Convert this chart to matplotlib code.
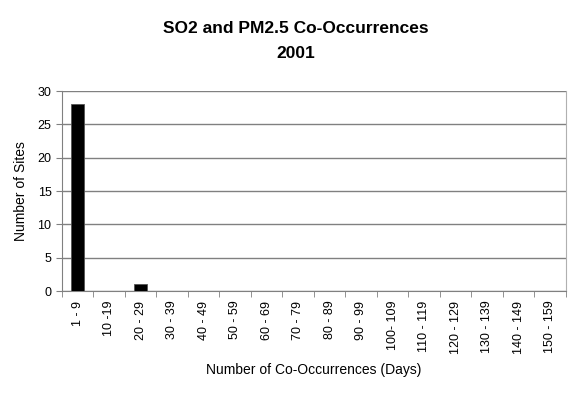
import matplotlib
matplotlib.use('Agg')
import matplotlib.pyplot as plt
import numpy as np

categories = ['1 - 9', '10 -19', '20 - 29', '30 - 39', '40 - 49', '50 - 59', '60 - 69',
              '70 - 79', '80 - 89', '90 - 99', '100- 109', '110 - 119', '120 - 129',
              '130 - 139', '140 - 149', '150 - 159']
sites = [28, 0, 1, 0, 0, 0, 0, 0, 0, 0, 0, 0, 0, 0, 0, 0]

plt.rcParams['font.family'] = ['Liberation Sans', 'DejaVu Sans']

fig = plt.figure(figsize=(5.76, 3.94), dpi=100)
ax = fig.add_axes([0.1076, 0.2614, 0.875, 0.5076])

x = np.arange(len(categories))
ax.bar(x, sites, width=0.42, color='black', edgecolor='#555555', linewidth=0.6, zorder=3)

ax.set_xlim(-0.5, len(categories) - 0.5)
ax.set_ylim(0, 30)
ax.set_yticks(range(0, 31, 5))
ax.yaxis.grid(True, color='#808080', linewidth=1.0, zorder=0)
ax.set_xticks(x)
ax.set_xticklabels(categories, rotation=90, fontsize=9)
ax.tick_params(axis='x', length=0, pad=7)
ax.set_xticks(np.arange(-0.5, len(categories), 1), minor=True)
ax.tick_params(axis='x', which='minor', length=4, color='#808080')
ax.tick_params(axis='y', labelsize=9, length=4, color='#808080')

ax.spines['top'].set_visible(False)
ax.spines['right'].set_color('#b0b0b0')
ax.spines['left'].set_color('#808080')
ax.spines['bottom'].set_color('#808080')

ax.set_ylabel('Number of Sites', fontsize=10, labelpad=7)
ax.set_xlabel('Number of Co-Occurrences (Days)', fontsize=10, labelpad=7)

# two-line title, Excel style spacing
fig.text(0.514, 0.916, 'SO2 and PM2.5 Co-Occurrences', ha='center', va='baseline',
         fontsize=12.5, fontweight='bold')
fig.text(0.514, 0.853, '2001', ha='center', va='baseline', fontsize=12.5, fontweight='bold')

fig.savefig('out.png', dpi=100)
